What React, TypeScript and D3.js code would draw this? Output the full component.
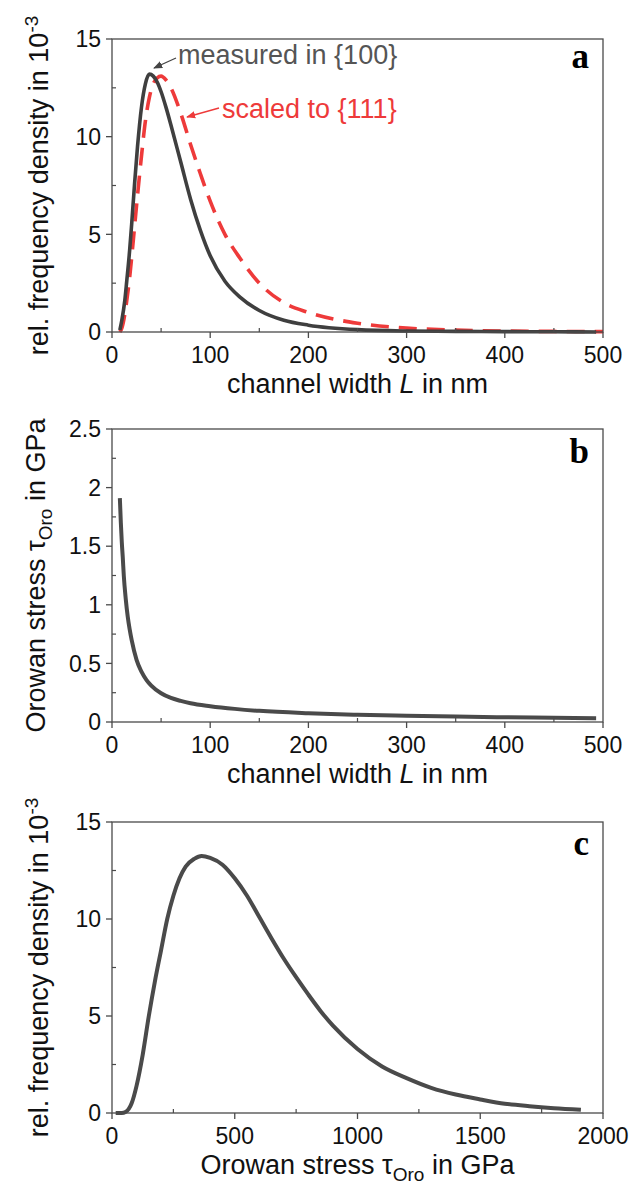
import React from "react";
import * as d3 from "d3";

// ---- data ----
const measuredL = [8, 10, 13, 15, 18, 20, 23, 26, 30, 34, 38, 42, 46, 50, 55, 60, 70, 80, 90, 100, 115, 130, 150, 175, 200, 250, 300, 350, 400, 450, 493];
const measuredD = [0.1, 0.6, 1.6, 2.6, 4.2, 5.5, 7.6, 9.5, 11.5, 12.7, 13.2, 13.1, 12.8, 12.3, 11.5, 10.6, 8.7, 6.8, 5.2, 3.9, 2.6, 1.8, 1.1, 0.6, 0.35, 0.12, 0.05, 0.03, 0.02, 0.01, 0.0];

const scaledL = [8, 10, 13, 15, 18, 20, 23, 26, 30, 34, 38, 42, 46, 50, 55, 60, 70, 80, 90, 100, 115, 130, 150, 175, 200, 250, 300, 350, 400, 450, 500];
const scaledD = [0.0, 0.2, 0.9, 1.6, 2.8, 3.8, 5.4, 7.0, 9.0, 10.8, 12.0, 12.7, 13.0, 13.1, 12.9, 12.5, 11.2, 9.6, 8.1, 6.7, 5.0, 3.8, 2.5, 1.5, 1.0, 0.45, 0.2, 0.1, 0.05, 0.03, 0.02];

const orowanL = [8, 9, 10, 11, 12, 14, 16, 18, 20, 25, 30, 35, 40, 50, 60, 70, 80, 100, 125, 150, 200, 250, 300, 350, 400, 450, 493];
const orowanTau = [1.91, 1.7, 1.53, 1.4, 1.25, 1.05, 0.9, 0.79, 0.7, 0.53, 0.43, 0.36, 0.31, 0.245, 0.205, 0.18, 0.16, 0.135, 0.112, 0.095, 0.075, 0.062, 0.053, 0.046, 0.04, 0.036, 0.033];

const stressX = [15, 40, 55, 80, 100, 125, 150, 175, 200, 225, 250, 275, 300, 335, 365, 400, 450, 500, 550, 600, 650, 700, 750, 800, 850, 900, 1000, 1100, 1200, 1300, 1400, 1500, 1600, 1700, 1800, 1910];
const stressD = [0, 0, 0.05, 0.5, 1.4, 3.0, 5.0, 6.8, 8.4, 10.0, 11.2, 12.1, 12.7, 13.1, 13.25, 13.15, 12.8, 12.1, 11.2, 10.1, 9.0, 7.95, 7.0, 6.1, 5.25, 4.5, 3.3, 2.4, 1.8, 1.3, 0.95, 0.7, 0.48, 0.35, 0.25, 0.17];

const xTicksL = [0, 100, 200, 300, 400, 500];
const xTicksStress = [0, 500, 1000, 1500, 2000];
const yTicksDensity = [0, 5, 10, 15];
const yTicksTau = [0, 0.5, 1, 1.5, 2, 2.5];

// ---- layout ----
const W = 630;
const H = 1184;
const LEFT = 112;
const RIGHT = 603;
const SANS = "'Liberation Sans', Arial, Helvetica, sans-serif";
const SERIF = "'Liberation Serif', 'Times New Roman', serif";
const AXIS = "#4a4a4a";
const TITLE_SIZE = 27;
const TICK_SIZE = 23;

type Series = { xs: number[]; ys: number[]; color: string; dash?: string; width: number };

function Panel(props: {
  top: number;
  bottom: number;
  xDomain: [number, number];
  yDomain: [number, number];
  xTicks: number[];
  yTicks: number[];
  xMinorStep: number;
  yMinorStep: number;
  series: Series[];
  letter: string;
  letterY: number;
  xTitle: React.ReactNode;
  yTitle: React.ReactNode;
  yTitleX: number;
  children?: React.ReactNode;
}) {
  const { top, bottom, xDomain, yDomain, xTicks, yTicks, xMinorStep, yMinorStep, series } = props;
  const x = d3.scaleLinear().domain(xDomain).range([LEFT, RIGHT]);
  const y = d3.scaleLinear().domain(yDomain).range([bottom, top]);
  const fmt = (v: number) => String(v);
  const xMinor = d3.range(xDomain[0] + xMinorStep, xDomain[1], xMinorStep * 2);
  const yMinor = d3.range(yDomain[0] + yMinorStep, yDomain[1], yMinorStep * 2);
  const midY = (top + bottom) / 2;
  const midX = (LEFT + RIGHT) / 2;
  return (
    <g>
      {series.map((s, i) => {
        const line = d3
          .line<number>()
          .x((_, k) => x(s.xs[k]))
          .y((v) => y(v))
          .curve(d3.curveMonotoneX);
        return (
          <path
            key={i}
            d={line(s.ys) || ""}
            fill="none"
            stroke={s.color}
            strokeWidth={s.width}
            strokeDasharray={s.dash}
            strokeLinejoin="round"
          />
        );
      })}
      {/* frame */}
      <rect x={LEFT} y={top} width={RIGHT - LEFT} height={bottom - top} fill="none" stroke={AXIS} strokeWidth={1.3} />
      {/* x ticks */}
      {xTicks.map((t) => (
        <g key={"xt" + t}>
          <line x1={x(t)} x2={x(t)} y1={bottom} y2={bottom + 6} stroke={AXIS} strokeWidth={1.3} />
          <text x={x(t)} y={bottom + 31} textAnchor="middle" fontFamily={SANS} fontSize={TICK_SIZE} fill="#111">
            {fmt(t)}
          </text>
        </g>
      ))}
      {xMinor.map((t) => (
        <line key={"xm" + t} x1={x(t)} x2={x(t)} y1={bottom} y2={bottom - 4} stroke={AXIS} strokeWidth={1.2} />
      ))}
      {/* y ticks */}
      {yTicks.map((t) => (
        <g key={"yt" + t}>
          <line x1={LEFT - 6} x2={LEFT} y1={y(t)} y2={y(t)} stroke={AXIS} strokeWidth={1.3} />
          <text x={LEFT - 11} y={y(t)} dy="0.36em" textAnchor="end" fontFamily={SANS} fontSize={TICK_SIZE} fill="#111">
            {fmt(t)}
          </text>
        </g>
      ))}
      {yMinor.map((t) => (
        <line key={"ym" + t} x1={LEFT} x2={LEFT + 4} y1={y(t)} y2={y(t)} stroke={AXIS} strokeWidth={1.2} />
      ))}
      {/* titles */}
      <text x={midX} y={bottom + 61} textAnchor="middle" fontFamily={SANS} fontSize={TITLE_SIZE} fill="#111">
        {props.xTitle}
      </text>
      <text
        transform={`translate(${props.yTitleX},${midY}) rotate(-90)`}
        textAnchor="middle"
        fontFamily={SANS}
        fontSize={TITLE_SIZE}
        fill="#111"
      >
        {props.yTitle}
      </text>
      <text x={RIGHT - 14} y={props.letterY} textAnchor="end" fontFamily={SERIF} fontWeight="bold" fontSize={35} fill="#000">
        {props.letter}
      </text>
      {props.children}
    </g>
  );
}

const densityTitle = (
  <>
    rel. frequency density in 10
    <tspan fontSize={19} dy={-10}>-3</tspan>
  </>
);

const stressTitle = (
  <>
    Orowan stress τ<tspan fontSize={19} dy={7}>Oro</tspan>
    <tspan dy={-7}> in GPa</tspan>
  </>
);

const widthTitle = (
  <>
    channel width <tspan fontStyle="italic">L</tspan> in nm
  </>
);

export default function App() {
  return (
    <svg
      width={W}
      height={H}
      viewBox={`0 0 ${W} ${H}`}
      style={{ position: "absolute", left: 0, top: 0, background: "#fff" }}
    >
      <defs>
        <marker id="arrGray" viewBox="0 0 10 10" refX="9" refY="5" markerWidth="7" markerHeight="7" orient="auto">
          <path d="M0,1 L10,5 L0,9 z" fill="#444" />
        </marker>
        <marker id="arrRed" viewBox="0 0 10 10" refX="9" refY="5" markerWidth="7" markerHeight="7" orient="auto">
          <path d="M0,1 L10,5 L0,9 z" fill="#ee3a3a" />
        </marker>
      </defs>
      <rect x={0} y={0} width={W} height={H} fill="#fff" />

      <Panel
        top={39}
        bottom={332}
        xDomain={[0, 500]}
        yDomain={[0, 15]}
        xTicks={xTicksL}
        yTicks={yTicksDensity}
        xMinorStep={50}
        yMinorStep={2.5}
        series={[
          { xs: scaledL, ys: scaledD, color: "#ee3a3a", dash: "18,10", width: 3.6 },
          { xs: measuredL, ys: measuredD, color: "#3f3f3f", width: 3.6 },
        ]}
        letter="a"
        letterY={68}
        xTitle={widthTitle}
        yTitle={densityTitle}
        yTitleX={48}
      >
        <line x1={176} y1={58} x2={154} y2={68} stroke="#444" strokeWidth={1.3} markerEnd="url(#arrGray)" />
        <text x={178} y={64} fontFamily={SANS} fontSize={27} fill="#555">
          measured in {"{100}"}
        </text>
        <line x1={219} y1={108} x2={187} y2={117} stroke="#ee3a3a" strokeWidth={1.3} markerEnd="url(#arrRed)" />
        <text x={222} y={118} fontFamily={SANS} fontSize={27} fill="#ee3a3a">
          scaled to {"{111}"}
        </text>
      </Panel>

      <Panel
        top={429}
        bottom={722}
        xDomain={[0, 500]}
        yDomain={[0, 2.5]}
        xTicks={xTicksL}
        yTicks={yTicksTau}
        xMinorStep={50}
        yMinorStep={0.25}
        series={[{ xs: orowanL, ys: orowanTau, color: "#4a4a4a", width: 4 }]}
        letter="b"
        letterY={463}
        xTitle={widthTitle}
        yTitle={stressTitle}
        yTitleX={45}
      />

      <Panel
        top={822}
        bottom={1113}
        xDomain={[0, 2000]}
        yDomain={[0, 15]}
        xTicks={xTicksStress}
        yTicks={yTicksDensity}
        xMinorStep={250}
        yMinorStep={2.5}
        series={[{ xs: stressX, ys: stressD, color: "#4a4a4a", width: 4 }]}
        letter="c"
        letterY={855}
        xTitle={stressTitle}
        yTitle={densityTitle}
        yTitleX={48}
      />
    </svg>
  );
}
